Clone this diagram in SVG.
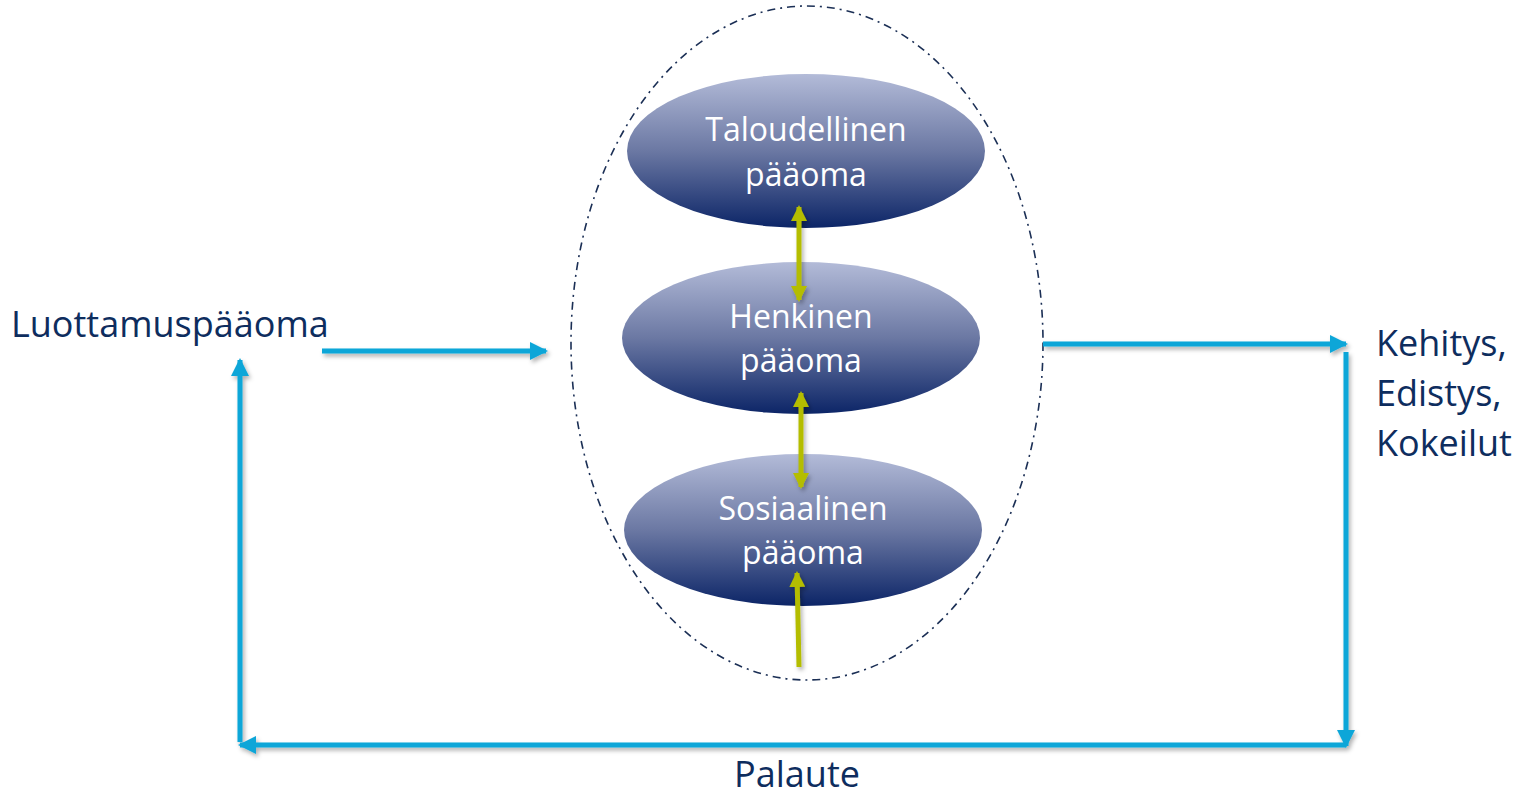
<svg xmlns="http://www.w3.org/2000/svg" width="1520" height="797" viewBox="0 0 1520 797">
<style>
.node-text{font-family:"Open Sans","Liberation Sans",sans-serif;font-size:32px;fill:#ffffff;text-anchor:middle}
.label{font-family:"Open Sans","Liberation Sans",sans-serif;font-size:36px;fill:#0e2d5e}
.blue{stroke:#0aa6d8;stroke-width:5;fill:none}
.green{stroke:#b4bd00;stroke-width:5;fill:none}
</style>
<defs>
<linearGradient id="g" x1="0" y1="0" x2="0" y2="1">
<stop offset="0" stop-color="#b3bbd8"/>
<stop offset="0.5" stop-color="#6b78a3"/>
<stop offset="1" stop-color="#0c2567"/>
</linearGradient>
<filter id="sh" x="-20%" y="-20%" width="140%" height="140%">
<feDropShadow dx="2" dy="3" stdDeviation="2" flood-color="#000" flood-opacity="0.3"/>
</filter>
<marker id="bA" markerUnits="userSpaceOnUse" markerWidth="20" markerHeight="18" refX="16" refY="9" orient="auto">
<path d="M0,0 L18,9 L0,18 Z" fill="#0aa6d8"/>
</marker>
<marker id="gA" markerUnits="userSpaceOnUse" markerWidth="16" markerHeight="16" refX="14" refY="8" orient="auto-start-reverse">
<path d="M0,0 L16,8 L0,16 Z" fill="#b4bd00"/>
</marker>
</defs>
<rect width="1520" height="797" fill="#ffffff"/>
<ellipse cx="807" cy="343" rx="236" ry="337" fill="none" stroke="#1b2f55" stroke-width="1.6" stroke-dasharray="8,5,2,5"/>
<g id="taloudellinen">
<ellipse cx="806" cy="151" rx="179" ry="77" fill="url(#g)"/>
<text class="node-text" x="806" y="141">Taloudellinen</text>
<text class="node-text" x="806" y="186">pääoma</text>
</g>
<g id="henkinen">
<ellipse cx="801" cy="338" rx="179" ry="76" fill="url(#g)"/>
<text class="node-text" x="801" y="328">Henkinen</text>
<text class="node-text" x="801" y="372">pääoma</text>
</g>
<g id="sosiaalinen">
<ellipse cx="803" cy="530" rx="179" ry="76" fill="url(#g)"/>
<text class="node-text" x="803" y="520">Sosiaalinen</text>
<text class="node-text" x="803" y="564">pääoma</text>
</g>
<g id="luottamus"><text class="label" x="11" y="337">Luottamuspääoma</text></g>
<g id="kehitys">
<text class="label" x="1376" y="356">Kehitys,</text>
<text class="label" x="1376" y="406">Edistys,</text>
<text class="label" x="1376" y="456">Kokeilut</text>
</g>
<g id="palaute"><text class="label" x="797" y="787" text-anchor="middle">Palaute</text></g>
<g id="connectors" filter="url(#sh)">
<line class="blue" x1="322" y1="351" x2="546" y2="351" marker-end="url(#bA)"/>
<line class="blue" x1="1043" y1="344" x2="1346" y2="344" marker-end="url(#bA)"/>
<line class="blue" x1="1346" y1="352" x2="1346" y2="746" marker-end="url(#bA)"/>
<line class="blue" x1="1346" y1="745" x2="240" y2="745" marker-end="url(#bA)"/>
<line class="blue" x1="240" y1="742" x2="240" y2="360" marker-end="url(#bA)"/>
<line class="green" x1="799" y1="207" x2="799" y2="300" marker-start="url(#gA)" marker-end="url(#gA)"/>
<line class="green" x1="801" y1="393" x2="801" y2="487" marker-start="url(#gA)" marker-end="url(#gA)"/>
<line class="green" x1="799" y1="667" x2="797" y2="573" marker-end="url(#gA)"/>
</g>
</svg>
